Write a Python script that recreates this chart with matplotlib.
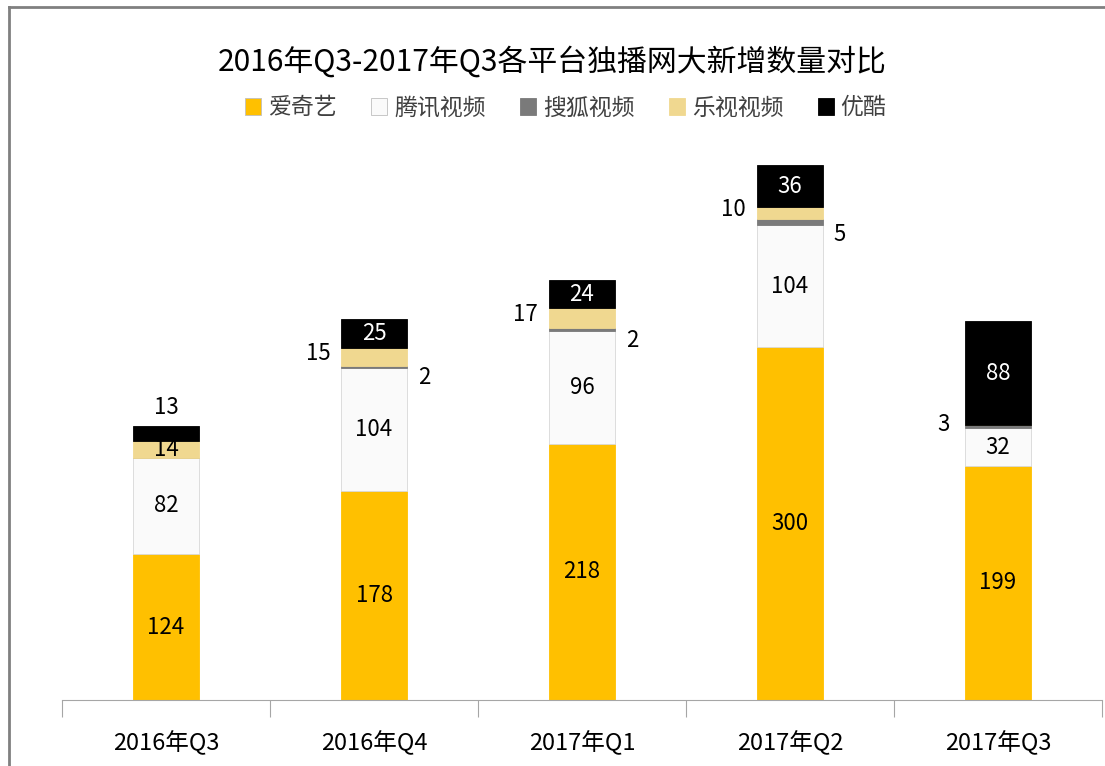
import numpy as np
import matplotlib.pyplot as plt
from matplotlib.lines import Line2D

plt.rcParams['font.family'] = ['Noto Sans CJK SC', 'DejaVu Sans']

quarters = ["2016年Q3", "2016年Q4", "2017年Q1", "2017年Q2", "2017年Q3"]
series_names = ["爱奇艺", "腾讯视频", "搜狐视频", "乐视视频", "优酷"]
iqiyi = [124, 178, 218, 300, 199]
tencent = [82, 104, 96, 104, 32]
sohu = [0, 2, 2, 5, 3]
letv = [14, 15, 17, 10, 0]
youku = [13, 25, 24, 36, 88]

colors = ["#FFC000", "#FAFAFA", "#7A7A7A", "#F0D890", "#000000"]
all_series = [iqiyi, tencent, sohu, letv, youku]

fig = plt.figure(figsize=(11.05, 7.66), dpi=100)
# outer chart border (top and left visible)
fig.add_artist(Line2D([8.5 / 1105, 8.5 / 1105], [0, 1 - 6.5 / 766], color="#808080", lw=2))
fig.add_artist(Line2D([8.5 / 1105, 1], [1 - 6.5 / 766, 1 - 6.5 / 766], color="#808080", lw=2))

ax = fig.add_axes([62 / 1105, 1 - 700 / 766, 1040 / 1105, (700 - 112) / 766])
x = np.arange(len(quarters))
width = 0.32
bottom = np.zeros(len(quarters))
for name, vals, c in zip(series_names, all_series, colors):
    ax.bar(x, vals, width, bottom=bottom, color=c, label=name,
           edgecolor="#D8D8D8" if c == "#FAFAFA" else c, linewidth=0.6)
    bottom += np.array(vals)

ax.set_xlim(-0.5, len(quarters) - 0.5)
ax.set_ylim(0, 500)
ax.set_yticks([])
for s in ["top", "right", "left"]:
    ax.spines[s].set_visible(False)
ax.spines["bottom"].set_color("#A6A6A6")
ax.set_xticks(np.arange(-0.5, len(quarters), 1.0), minor=False)
ax.set_xticklabels([])
ax.tick_params(axis="x", length=12, color="#A6A6A6", direction="out")
for i, q in enumerate(quarters):
    ax.text(i, -36, q, ha="center", va="center", fontsize=17)

fs = 16
for i in range(len(quarters)):
    b = 0
    ax.text(i, b + iqiyi[i] / 2, str(iqiyi[i]), ha="center", va="center", fontsize=fs)
    b += iqiyi[i]
    ax.text(i, b + tencent[i] / 2, str(tencent[i]), ha="center", va="center", fontsize=fs)
    b += tencent[i]
    if sohu[i]:
        if letv[i]:
            ax.text(i + width / 2 + 0.08, b - 8, str(sohu[i]), ha="center", va="center", fontsize=fs)
        else:
            ax.text(i - width / 2 - 0.1, b + 3, str(sohu[i]), ha="center", va="center", fontsize=fs)
    b += sohu[i]
    if letv[i]:
        if youku[i] < 20:
            ax.text(i, b + letv[i] / 2, str(letv[i]), ha="center", va="center", fontsize=fs)
        else:
            ax.text(i - width / 2 - 0.11, b + letv[i] / 2 + 3, str(letv[i]), ha="center", va="center", fontsize=fs)
    b += letv[i]
    if youku[i] < 20:
        ax.text(i, b + youku[i] + 16, str(youku[i]), ha="center", va="center", fontsize=fs)
    else:
        ax.text(i, b + youku[i] / 2, str(youku[i]), ha="center", va="center", fontsize=fs, color="white")

fig.text(0.5, 1 - 62 / 766, "2016年Q3-2017年Q3各平台独播网大新增数量对比",
         ha="center", va="center", fontsize=21.5, fontweight="medium")
leg = fig.legend(loc="center", bbox_to_anchor=(0.512, 1 - 108 / 766), ncol=5, frameon=False,
                 fontsize=16.5, handlelength=0.7, handleheight=0.7, handletextpad=0.3,
                 columnspacing=1.5, labelcolor="#404040")
for h in leg.legend_handles:
    h.set_edgecolor("#BFBFBF" if h.get_facecolor()[0] > 0.95 else h.get_facecolor())

fig.savefig("out.png", dpi=100)
